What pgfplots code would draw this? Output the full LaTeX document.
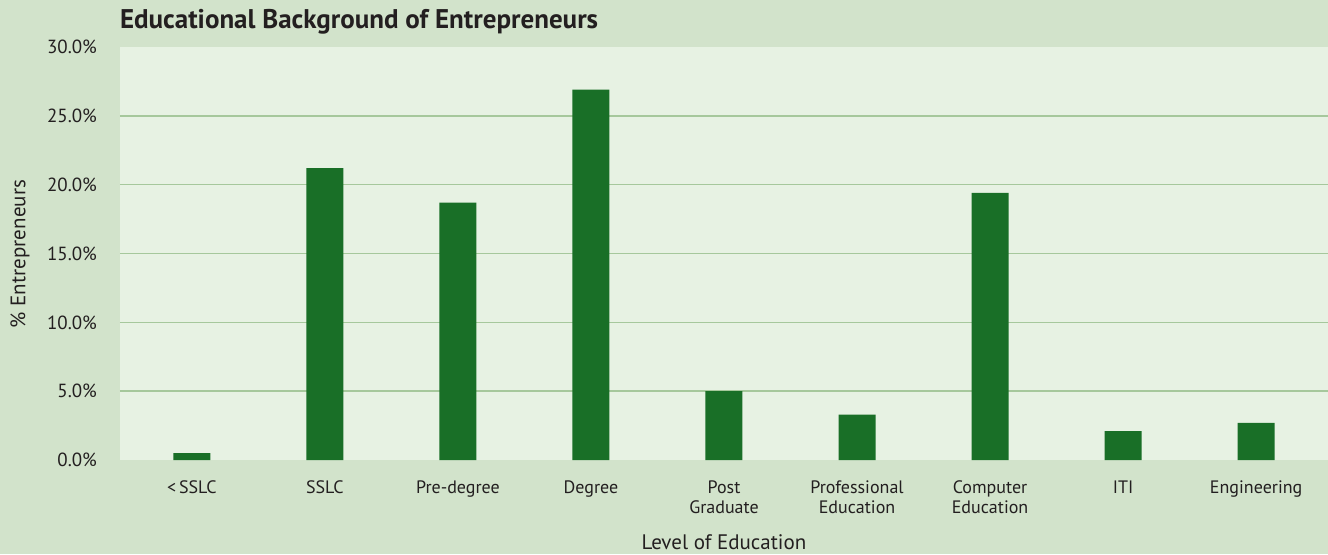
\documentclass[border=0pt]{standalone}
\usepackage{fontspec}
\setmainfont{PT Sans}
\usepackage{pgfplots}
\pgfplotsset{compat=1.18}
\definecolor{outerbg}{HTML}{D2E3CB}
\definecolor{plotbg}{HTML}{E7F2E3}
\definecolor{barc}{HTML}{196F27}
\definecolor{gridc}{HTML}{A6C89C}
\definecolor{txt}{HTML}{231F20}
\begin{document}
\begin{tikzpicture}
\fill[outerbg] (-60pt,-47pt) rectangle (604pt,230pt);
\path[use as bounding box] (-60pt,-47pt) rectangle (604pt,230pt);
\begin{axis}[
  at={(0pt,0pt)}, anchor=south west,
  scale only axis, width=604pt, height=206.5pt,
  ybar, bar width=18.5pt,
  xmin=-0.54, xmax=8.54, ymin=0, ymax=30,
  axis background/.style={fill=plotbg},
  axis line style={draw=none},
  major tick length=0pt,
  ytick={5,10,15,20,25},
  extra y ticks={0,30},
  extra y tick style={grid=none},
  ymajorgrids,
  grid style={draw=gridc, line width=0.8pt},
  /pgf/number format/assume math mode=true,
  yticklabel={\pgfmathprintnumber[fixed,fixed zerofill,precision=1]{\tick}\%},
  yticklabel style={font=\fontsize{9.5}{11}\selectfont, text=txt, xshift=-8pt},
  xtick={0,1,2,3,4,5,6,7,8},
  xticklabels={{<\,SSLC},SSLC,Pre-degree,Degree,Post\\Graduate,Professional\\Education,Computer\\Education,ITI,Engineering},
  xticklabel style={font=\fontsize{9}{10}\selectfont, text=txt, align=center, yshift=-7pt},
  clip=false,
]
\addplot[fill=barc, draw=none] coordinates {(0,0.5) (1,21.2) (2,18.7) (3,26.9) (4,5.0) (5,3.3) (6,19.4) (7,2.1) (8,2.7)};
\end{axis}
\node[anchor=west, font=\bfseries\fontsize{13.5}{15}\selectfont, text=txt] at (-3.5pt,219pt) {Educational Background of Entrepreneurs};
\node[rotate=90, font=\fontsize{10.5}{12}\selectfont, text=txt] at (-50pt,103pt) {\% Entrepreneurs};
\node[font=\fontsize{10.5}{12}\selectfont, text=txt] at (302pt,-41pt) {Level of Education};
\end{tikzpicture}
\end{document}
